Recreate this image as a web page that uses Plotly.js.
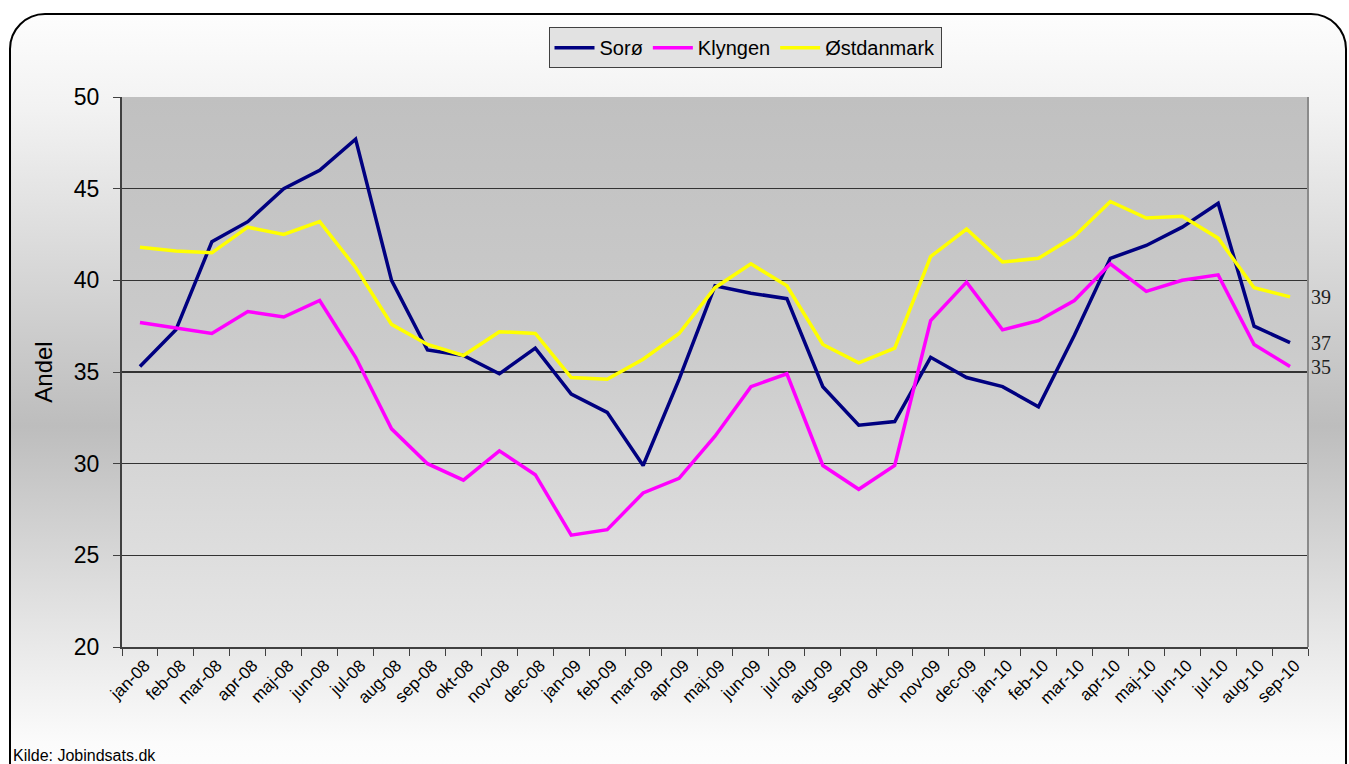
<!DOCTYPE html>
<html>
<head>
<meta charset="utf-8">
<script src="https://cdn.plot.ly/plotly-3.0.1.min.js"></script>
<style>
  html, body { margin: 0; padding: 0; width: 1349px; height: 764px; overflow: hidden; background: #ffffff; }
  #frame { position: absolute; left: 9px; top: 13px; width: 1334px; height: 790px;
           border: 2px solid #000; border-radius: 36px;
           background: linear-gradient(to bottom, #fdfdfd 0%, #f2f2f2 12%, #bdbdbd 52%, #e6e6e6 78%, #fbfbfb 92%, #ffffff 100%); }
  #plotbg { position: absolute; left: 122px; top: 97px; width: 1186px; height: 550px;
            background: linear-gradient(to bottom, #c0c0c0 0%, #cbcbcb 45%, #e6e6e6 100%); }
  #chart { position: absolute; left: 0; top: 0; width: 1349px; height: 764px; }
</style>
</head>
<body>
<div id="frame"></div>
<div id="plotbg"></div>
<div id="chart"></div>
<script>
const months = ["jan-08","feb-08","mar-08","apr-08","maj-08","jun-08","jul-08","aug-08","sep-08","okt-08","nov-08","dec-08",
                "jan-09","feb-09","mar-09","apr-09","maj-09","jun-09","jul-09","aug-09","sep-09","okt-09","nov-09","dec-09",
                "jan-10","feb-10","mar-10","apr-10","maj-10","jun-10","jul-10","aug-10","sep-10"];
const soroe = [35.3,37.3,42.1,43.2,45.0,46.0,47.7,40.0,36.2,35.9,34.9,36.3,
               33.8,32.8,29.9,34.6,39.7,39.3,39.0,34.2,32.1,32.3,35.8,34.7,
               34.2,33.1,37.0,41.2,41.9,42.9,44.2,37.5,36.6];
const klyngen = [37.7,37.4,37.1,38.3,38.0,38.9,35.8,31.9,30.0,29.1,30.7,29.4,
                 26.1,26.4,28.4,29.2,31.5,34.2,34.9,29.9,28.6,29.9,37.8,39.9,
                 37.3,37.8,38.9,40.9,39.4,40.0,40.3,36.5,35.3];
const oest = [41.8,41.6,41.5,42.9,42.5,43.2,40.7,37.6,36.5,35.9,37.2,37.1,
              34.7,34.6,35.7,37.1,39.6,40.9,39.7,36.5,35.5,36.3,41.3,42.8,
              41.0,41.2,42.4,44.3,43.4,43.5,42.3,39.6,39.1];
const seriesNames = ["Sorø","Klyngen","Østdanmark"];
const seriesColors = ["#000080","#ff00ff","#ffff00"];
const seriesData = [soroe, klyngen, oest];

const traces = seriesData.map((d, i) => ({
  type: "scatter", mode: "lines", x: months, y: d, name: seriesNames[i],
  line: { color: seriesColors[i], width: 3.5 }, hoverinfo: "x+y+name"
}));

const endLabels = seriesData.map(d => ({
  xref: "paper", yref: "y", x: 1, y: d[d.length - 1], xanchor: "left", yanchor: "middle",
  xshift: 1, showarrow: false, text: String(Math.round(d[d.length - 1])),
  font: { family: "Liberation Serif, Times New Roman, serif", size: 20, color: "#222" }
}));

const layout = {
  width: 1349, height: 764,
  margin: { l: 122, r: 41, t: 97, b: 117, pad: 0 },
  paper_bgcolor: "rgba(0,0,0,0)", plot_bgcolor: "rgba(0,0,0,0)",
  font: { family: "Liberation Sans, Arial, sans-serif", color: "#000" },
  showlegend: true,
  legend: {
    orientation: "h", xref: "paper", yref: "paper", x: 0.5253, xanchor: "center",
    y: 1.127, yanchor: "top", bgcolor: "#e2e2e2", bordercolor: "#404040", borderwidth: 1,
    font: { size: 20, family: "Liberation Sans, Arial, sans-serif" }, traceorder: "normal",
    itemwidth: 40
  },
  xaxis: {
    type: "category", tickangle: -45, tickson: "boundaries", ticks: "outside", ticklen: 7,
    tickcolor: "#404040", tickwidth: 1, showline: true, linecolor: "#404040", linewidth: 2,
    showgrid: false, tickfont: { size: 17 }, ticklabelshift: 5, range: [-0.5, months.length - 0.5], fixedrange: true
  },
  yaxis: {
    range: [20, 50], dtick: 5, ticks: "outside", ticklen: 7, tickcolor: "#404040", tickwidth: 1,
    showline: true, linecolor: "#404040", linewidth: 2, showgrid: true, gridcolor: "#333333", gridwidth: 1.3,
    tickfont: { size: 23 }, ticklabelstandoff: 9, zeroline: false,
    title: { text: "Andel", font: { size: 24 }, standoff: 14 }, fixedrange: true
  },
  shapes: [
    { type: "line", xref: "paper", yref: "paper", x0: 1, x1: 1, y0: 0, y1: 1, line: { color: "#8a8a8a", width: 2 } }
  ],
  annotations: endLabels.concat([
    { xref: "paper", yref: "paper", x: -0.0935, y: -0.2, xanchor: "left", yanchor: "bottom", showarrow: false,
      text: "Kilde: Jobindsats.dk", yshift: -9,
      font: { family: "Liberation Sans Narrow, Liberation Sans, Arial, sans-serif", size: 16, color: "#000" } }
  ])
};

Plotly.newPlot("chart", traces, layout, { displayModeBar: false, staticPlot: true });
</script>
</body>
</html>
